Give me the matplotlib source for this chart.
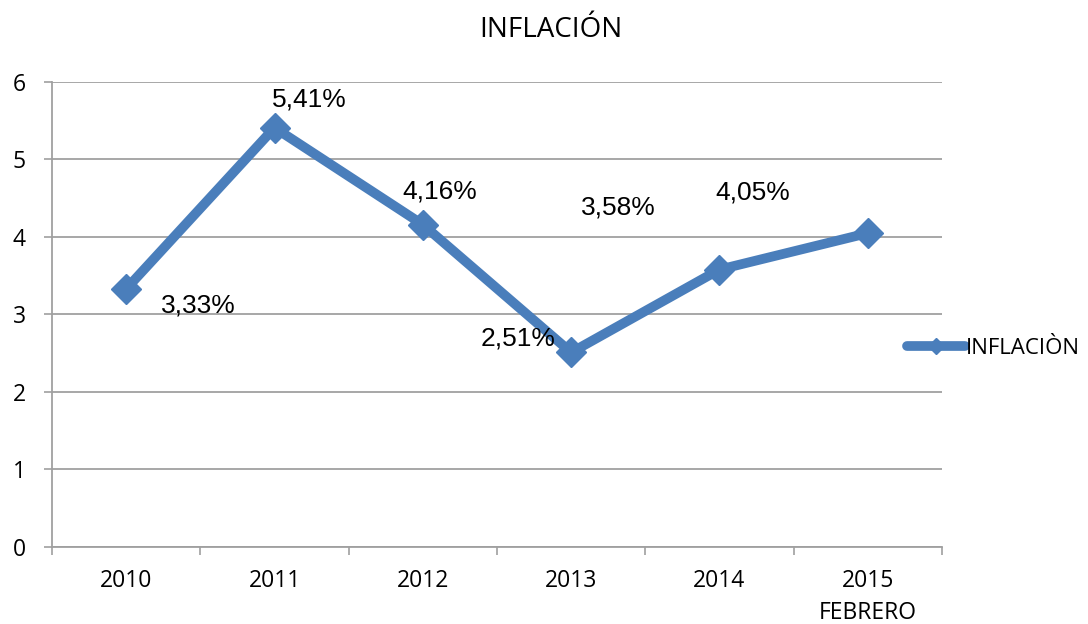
import matplotlib.pyplot as plt

# Data
years = ['2010', '2011', '2012', '2013', '2014', '2015\nFEBRERO']
inflation = [3.33, 5.41, 4.16, 2.51, 3.58, 4.05]
labels = ['3,33%', '5,41%', '4,16%', '2,51%', '3,58%', '4,05%']

# label placement (offset in points from each marker)
label_offsets = [(52, -12), (25, 20), (12, 24), (-38, 10), (-73, 45), (-83, 29)]

blue = '#4A7EBB'
gray = '#A0A0A0'

fig = plt.figure(figsize=(10.88, 6.24), dpi=100)
ax = fig.add_axes([0.0478, 0.1234, 0.818, 0.7452])

x = list(range(len(years)))
ax.plot(x, inflation, color=blue, linewidth=7, marker='D', markersize=15,
        solid_capstyle='round', solid_joinstyle='miter', label='INFLACIÒN', zorder=3)

for xi, yi, lab, off in zip(x, inflation, labels, label_offsets):
    ax.annotate(lab, (xi, yi), xytext=off, textcoords='offset points',
                ha='center', va='center', fontsize=19, family='Liberation Sans')

ax.set_xlim(-0.5, len(years) - 0.5)
ax.set_ylim(0, 6)
ax.set_yticks(range(0, 7))

# category boundaries as major ticks, labels on minor ticks at centres
ax.set_xticks([i - 0.5 for i in range(len(years) + 1)])
ax.set_xticklabels([])
ax.set_xticks(x, minor=True)
ax.set_xticklabels(years, minor=True, family='Open Sans', fontsize=16.5, linespacing=1.45)
ax.tick_params(axis='x', which='minor', length=0, pad=16)
ax.tick_params(axis='x', which='major', length=6, width=1.2, color=gray)
ax.tick_params(axis='y', length=6, width=1.2, color=gray, pad=13, labelsize=16.5)
for t in ax.get_yticklabels():
    t.set_family('Open Sans')

ax.grid(axis='y', color=gray, linewidth=1.3)
ax.set_axisbelow(True)
for s in ['top', 'right']:
    ax.spines[s].set_visible(False)
for s in ['left', 'bottom']:
    ax.spines[s].set_color(gray)
    ax.spines[s].set_linewidth(1.3)

fig.text(0.506, 0.952, 'INFLACIÓN', ha='center', va='center',
         family='Open Sans', fontsize=20)

leg = fig.legend(loc='center left', bbox_to_anchor=(0.8336, 0.442), frameon=False,
                 borderpad=0, borderaxespad=0, handlelength=2.6, handletextpad=0.05,
                 markerscale=0.55, prop={'family': 'Open Sans', 'size': 16})

fig.savefig('out.png', dpi=100)
